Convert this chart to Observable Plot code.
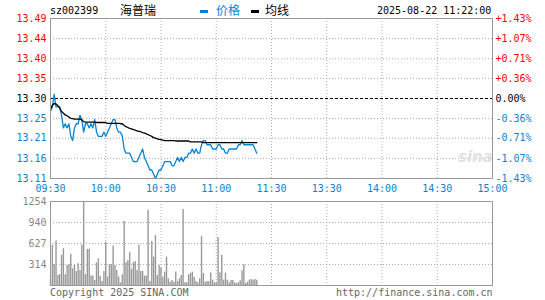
<!DOCTYPE html>
<html>
<head>
<meta charset="utf-8">
<script src="https://cdn.jsdelivr.net/npm/d3@7"></script>
<script src="https://cdn.jsdelivr.net/npm/@observablehq/plot@0.6"></script>
<style>
  html, body { margin: 0; padding: 0; background: #fff; }
  #wrap { position: relative; width: 545px; height: 300px; background: #fff; overflow: hidden; }
  .t { position: absolute; white-space: nowrap; font-family: "DejaVu Sans Mono", monospace; font-size: 10px; line-height: 12px; }
  .cjk { position: absolute; white-space: nowrap; font-family: "Noto Sans CJK SC", sans-serif; font-size: 12px; line-height: 14px; }
  .sw { position: absolute; height: 3px; width: 8px; }
  #price, #volume { position: absolute; left: 0; }
  #price { top: 0; }
  #volume { top: 195px; }
</style>
</head>
<body>
<div id="wrap">
  <div id="price"></div>
  <div id="volume"></div>
  <div class="t" id="code" style="left:50px; top:5px; color:#000;"></div>
  <div class="cjk" id="name" style="left:120px; top:3px; color:#000;"></div>
  <div class="sw" style="left:200px; top:10px; background:#0b82d0;"></div>
  <div class="cjk" id="lg1" style="left:216px; top:3px; color:#0b82d0;"></div>
  <div class="sw" style="left:251px; top:10px; background:#000;"></div>
  <div class="cjk" id="lg2" style="left:265px; top:3px; color:#000;"></div>
  <div class="t" id="stamp" style="left:377px; top:5px; color:#000;"></div>
  <div class="t" id="copy" style="left:50px; top:287px; color:#666;"></div>
  <div class="t" id="url" style="left:336px; top:287px; color:#666;"></div>
  <div style="position:absolute; left:458px; top:148px; font-family:'DejaVu Sans', sans-serif; font-weight:bold; font-style:italic; font-size:15px; color:#e2e2e2;">sina</div>
</div>
<script>
// ---- data ----
const stockCode = "sz002399";
const stockName = "海普瑞";
const legendPrice = "价格";
const legendAvg = "均线";
const timestamp = "2025-08-22 11:22:00";
const copyright = "Copyright 2025 SINA.COM";
const siteUrl = "http://finance.sina.com.cn";

const prevClose = 13.30;
const pctLevels = [1.43, 1.07, 0.71, 0.36, 0, -0.36, -0.71, -1.07, -1.43];
const priceLabels = ["13.49", "13.44", "13.40", "13.35", "13.30", "13.25", "13.21", "13.16", "13.11"];
const pctLabels = ["+1.43%", "+1.07%", "+0.71%", "+0.36%", "0.00%", "-0.36%", "-0.71%", "-1.07%", "-1.43%"];

const timeTickMinutes = [0, 30, 60, 90, 120, 150, 180, 210, 240];
const timeLabels = ["09:30", "10:00", "10:30", "11:00", "11:30", "13:30", "14:00", "14:30", "15:00"];

const volTicks = [1254, 940, 627, 314];

// price per minute from 09:30
const price = [
  13.27, 13.28, 13.31, 13.28, 13.28, 13.28, 13.26, 13.23, 13.24, 13.23,
  13.24, 13.21, 13.20, 13.23, 13.24, 13.24, 13.26, 13.25, 13.22, 13.24,
  13.24, 13.23, 13.24, 13.23, 13.25, 13.22, 13.21, 13.21, 13.21, 13.22,
  13.21, 13.22, 13.23, 13.24, 13.25, 13.25, 13.23, 13.22, 13.22, 13.21,
  13.18, 13.17, 13.17, 13.17, 13.16, 13.15, 13.15, 13.15, 13.16, 13.17,
  13.18, 13.16, 13.15, 13.14, 13.13, 13.13, 13.12, 13.11, 13.12, 13.13,
  13.13, 13.14, 13.15, 13.15, 13.15, 13.15, 13.14, 13.14, 13.15, 13.16,
  13.15, 13.16, 13.15, 13.16, 13.16, 13.17, 13.17, 13.18, 13.17, 13.18,
  13.17, 13.17, 13.19, 13.20, 13.20, 13.19, 13.19, 13.19, 13.18, 13.18,
  13.18, 13.19, 13.19, 13.18, 13.18, 13.17, 13.17, 13.18, 13.18, 13.18,
  13.18, 13.18, 13.19, 13.19, 13.20, 13.19, 13.19, 13.19, 13.19, 13.19,
  13.19, 13.18, 13.17
];

// average price line per minute
const avgPrice = [
  13.275, 13.284, 13.288, 13.287, 13.283, 13.277, 13.269, 13.265, 13.261, 13.259,
  13.256, 13.253, 13.252, 13.251, 13.251, 13.251, 13.251, 13.249, 13.245, 13.244,
  13.244, 13.244, 13.244, 13.244, 13.244, 13.243, 13.243, 13.243, 13.243, 13.243,
  13.243, 13.241, 13.241, 13.241, 13.241, 13.241, 13.241, 13.241, 13.240, 13.240,
  13.236, 13.233, 13.231, 13.229, 13.228, 13.226, 13.225, 13.223, 13.222, 13.221,
  13.219, 13.218, 13.216, 13.214, 13.212, 13.210, 13.207, 13.206, 13.204, 13.203,
  13.202, 13.201, 13.200, 13.200, 13.200, 13.200, 13.200, 13.200, 13.199, 13.199,
  13.199, 13.199, 13.199, 13.199, 13.199, 13.199, 13.197, 13.197, 13.197, 13.197,
  13.197, 13.197, 13.197, 13.195, 13.195, 13.195, 13.195, 13.195, 13.195, 13.195,
  13.195, 13.195, 13.195, 13.195, 13.195, 13.195, 13.195, 13.195, 13.195, 13.195,
  13.195, 13.195, 13.195, 13.195, 13.195, 13.195, 13.195, 13.195, 13.195, 13.195,
  13.195, 13.195, 13.195
];

// volume per minute
const volume = [
  90, 600, 310, 665, 150, 165, 450, 550, 160, 300,
  310, 465, 250, 300, 210, 325, 225, 600, 1254, 165,
  540, 540, 140, 140, 75, 340, 400, 135, 60, 210,
  645, 125, 310, 310, 590, 300, 225, 125, 40, 160,
  955, 340, 370, 490, 240, 340, 360, 225, 600, 210,
  210, 140, 140, 1125, 60, 655, 425, 745, 150, 300,
  260, 125, 200, 425, 100, 50, 75, 50, 200, 60,
  100, 150, 1135, 40, 40, 160, 180, 200, 125, 60,
  40, 100, 730, 180, 50, 60, 60, 185, 80, 40,
  40, 715, 190, 450, 80, 185, 80, 40, 75, 75,
  40, 30, 40, 70, 220, 310, 30, 50, 80, 90,
  80, 90, 80
];

// ---- styles ----
const BLUE = "#0b82d0";
const RED = "#ff0000";
const GRID = "#aaaaaa";
const FRAME = "#999999";

document.getElementById("code").textContent = stockCode;
document.getElementById("name").textContent = stockName;
document.getElementById("lg1").textContent = legendPrice;
document.getElementById("lg2").textContent = legendAvg;
document.getElementById("stamp").textContent = timestamp;
document.getElementById("copy").textContent = copyright;
document.getElementById("url").textContent = siteUrl;

const levels = pctLevels.map((p, i) => ({
  p, y: prevClose * (1 + p / 100), label: priceLabels[i], pct: pctLabels[i]
}));
const colorOf = p => p > 0 ? RED : p < 0 ? BLUE : "#000";
const priceData = price.map((v, i) => ({ i, v }));
const avgData = avgPrice.map((v, i) => ({ i, v }));
const timeData = timeTickMinutes.map((m, i) => ({ m, label: timeLabels[i] }));
const innerTimes = timeTickMinutes.slice(1, -1);

const fontStyle = { fontFamily: "'DejaVu Sans Mono', monospace", fontSize: "10px", background: "transparent", overflow: "visible" };

const pricePlot = Plot.plot({
  width: 545, height: 195,
  marginTop: 18, marginBottom: 17, marginLeft: 50, marginRight: 53,
  x: { domain: [0, 240], axis: null },
  y: { domain: [prevClose * (1 - 0.0143), prevClose * (1 + 0.0143)], axis: null },
  style: fontStyle,
  marks: [
    Plot.ruleY(levels.filter(d => d.p !== 0 && Math.abs(d.p) < 1.43), { y: "y", stroke: GRID, strokeDasharray: "1,2" }),
    Plot.ruleX(innerTimes, { stroke: GRID, strokeDasharray: "1,2" }),
    Plot.ruleY([prevClose], { stroke: "#000", strokeDasharray: "3,2" }),
    Plot.line(priceData, { x: "i", y: "v", stroke: BLUE, strokeWidth: 1.3 }),
    Plot.line(avgData, { x: "i", y: "v", stroke: "#000", strokeWidth: 1.3 }),
    Plot.frame({ stroke: FRAME }),
    Plot.text(levels, { y: "y", text: "label", frameAnchor: "left", dx: -4, textAnchor: "end", fill: d => colorOf(d.p) }),
    Plot.text(levels, { y: "y", text: "pct", frameAnchor: "right", dx: 3, textAnchor: "start", fill: d => colorOf(d.p) }),
    Plot.text(timeData, { x: "m", text: "label", frameAnchor: "bottom", dy: 10, lineAnchor: "middle", fill: BLUE })
  ]
});
document.getElementById("price").appendChild(pricePlot);

const volData = volume.map((v, i) => ({ i, v }));
const volumePlot = Plot.plot({
  width: 545, height: 105,
  marginTop: 6, marginBottom: 15, marginLeft: 50, marginRight: 53,
  x: { domain: [0, 240], axis: null },
  y: { domain: [0, volTicks[0]], axis: null },
  style: fontStyle,
  marks: [
    Plot.ruleY(volTicks.slice(1), { stroke: GRID, strokeDasharray: "1,2" }),
    Plot.ruleX(innerTimes, { stroke: GRID, strokeDasharray: "1,2" }),
    Plot.ruleX(volData, { x: "i", y1: 0, y2: "v", stroke: "#999", strokeWidth: 1.4 }),
    Plot.frame({ stroke: FRAME }),
    Plot.text(volTicks, { y: d => d, text: d => String(d), frameAnchor: "left", dx: -4, textAnchor: "end", fill: "#888" })
  ]
});
document.getElementById("volume").appendChild(volumePlot);
</script>
</body>
</html>
